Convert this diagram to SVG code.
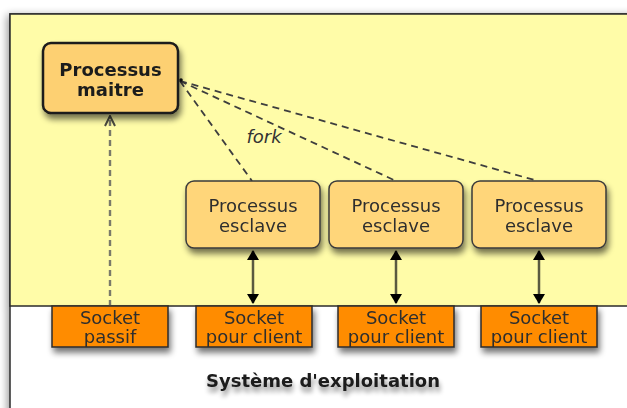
<svg xmlns="http://www.w3.org/2000/svg" width="627" height="408" viewBox="0 0 627 408">
  <style>
    .frame { fill: #ffffff; stroke: #2b2b2b; stroke-width: 1.5; }
    .panel { fill: #fffca8; stroke: #2b2b2b; stroke-width: 1.5; }
    .master { fill: #fdd072; stroke: #1a1a1a; stroke-width: 2.5; }
    .slave { fill: #ffd67a; stroke: #3a3a3a; stroke-width: 1.5; }
    .socket { fill: #ff8c00; stroke: #2b2b2b; stroke-width: 1.5; }
    .t { font-family: "DejaVu Sans", Verdana, sans-serif; font-size: 18px; text-anchor: middle; fill: #2e2e2e; }
    .tb { font-family: "DejaVu Sans", Verdana, sans-serif; font-size: 18px; font-weight: bold; text-anchor: middle; fill: #1a1a1a; }
    .fork { fill: none; stroke: #3e3e3e; stroke-width: 1.8; stroke-dasharray: 7 5; }
    .listen { fill: none; stroke: #7a7a6a; stroke-width: 2.4; stroke-dasharray: 6 4; }
    .io { stroke: #5a5a40; stroke-width: 2.5; }
  </style>
  <defs>
    <filter id="shadow" x="-20%" y="-20%" width="150%" height="160%">
      <feGaussianBlur in="SourceAlpha" stdDeviation="3"/>
      <feOffset dx="2" dy="5" result="b"/>
      <feComponentTransfer><feFuncA type="linear" slope="0.55"/></feComponentTransfer>
      <feMerge><feMergeNode/><feMergeNode in="SourceGraphic"/></feMerge>
    </filter>
    <filter id="frameShadow" x="-5%" y="-5%" width="110%" height="110%">
      <feGaussianBlur in="SourceAlpha" stdDeviation="4"/>
      <feOffset dx="-2" dy="2"/>
      <feComponentTransfer><feFuncA type="linear" slope="0.4"/></feComponentTransfer>
      <feMerge><feMergeNode/><feMergeNode in="SourceGraphic"/></feMerge>
    </filter>
    <filter id="textShadow" x="-10%" y="-50%" width="120%" height="250%">
      <feGaussianBlur in="SourceAlpha" stdDeviation="2.5"/>
      <feOffset dx="1" dy="5"/>
      <feComponentTransfer><feFuncA type="linear" slope="0.45"/></feComponentTransfer>
      <feMerge><feMergeNode/><feMergeNode in="SourceGraphic"/></feMerge>
    </filter>
    <marker id="solidHead" viewBox="0 0 10 12" refX="9" refY="6" markerWidth="10" markerHeight="12" markerUnits="userSpaceOnUse" orient="auto-start-reverse">
      <path d="M0,0 L10,6 L0,12 Z" fill="#000000"/>
    </marker>
    <marker id="openHead" viewBox="0 0 12 12" refX="11" refY="6" markerWidth="12" markerHeight="12" markerUnits="userSpaceOnUse" orient="auto">
      <path d="M1,1 L11,6 L1,11" fill="none" stroke="#4a4a40" stroke-width="2"/>
    </marker>
  </defs>

  <!-- operating system frame and user space panel -->
  <g id="os" filter="url(#frameShadow)">
    <rect class="frame" x="10" y="14" width="640" height="420"/>
    <rect class="panel" x="10" y="14" width="640" height="292"/>
  </g>

  <!-- connectors -->
  <g id="connectors">
    <path class="fork" d="M180,81 L252,181"/>
    <path class="fork" d="M180,81 L396,181"/>
    <path class="fork" d="M180,81 L538,181"/>
    <circle cx="181" cy="80" r="1.8" fill="#111"/>
    <path class="listen" d="M110,306 L110,116" marker-end="url(#openHead)"/>
    <line class="io" x1="253" y1="251" x2="253" y2="303" marker-start="url(#solidHead)" marker-end="url(#solidHead)"/>
    <line class="io" x1="396" y1="251" x2="396" y2="303" marker-start="url(#solidHead)" marker-end="url(#solidHead)"/>
    <line class="io" x1="539" y1="251" x2="539" y2="303" marker-start="url(#solidHead)" marker-end="url(#solidHead)"/>
    <text x="264" y="143" font-family="DejaVu Sans, Verdana, sans-serif" font-size="18" font-style="italic" text-anchor="middle" fill="#333">fork</text>
  </g>

  <g id="master" filter="url(#shadow)">
    <rect class="master" x="43" y="43" width="135" height="70" rx="8"/>
    <text class="tb" x="110.5" y="76">Processus</text>
    <text class="tb" x="110.5" y="96">maitre</text>
  </g>

  <g id="slave1" filter="url(#shadow)">
    <rect class="slave" x="186" y="181" width="134" height="67" rx="8"/>
    <text class="t" x="253" y="212">Processus</text>
    <text class="t" x="253" y="232">esclave</text>
  </g>
  <g id="slave2" filter="url(#shadow)">
    <rect class="slave" x="329" y="181" width="134" height="67" rx="8"/>
    <text class="t" x="396" y="212">Processus</text>
    <text class="t" x="396" y="232">esclave</text>
  </g>
  <g id="slave3" filter="url(#shadow)">
    <rect class="slave" x="472" y="181" width="134" height="67" rx="8"/>
    <text class="t" x="539" y="212">Processus</text>
    <text class="t" x="539" y="232">esclave</text>
  </g>

  <g id="socketPassive" filter="url(#shadow)">
    <rect class="socket" x="52" y="306" width="116" height="41"/>
    <text class="t" x="110" y="324">Socket</text>
    <text class="t" x="110" y="343">passif</text>
  </g>
  <g id="socketClient1" filter="url(#shadow)">
    <rect class="socket" x="196" y="306" width="116" height="41"/>
    <text class="t" x="254" y="324">Socket</text>
    <text class="t" x="254" y="343">pour client</text>
  </g>
  <g id="socketClient2" filter="url(#shadow)">
    <rect class="socket" x="338" y="306" width="116" height="41"/>
    <text class="t" x="396" y="324">Socket</text>
    <text class="t" x="396" y="343">pour client</text>
  </g>
  <g id="socketClient3" filter="url(#shadow)">
    <rect class="socket" x="481" y="306" width="116" height="41"/>
    <text class="t" x="539" y="324">Socket</text>
    <text class="t" x="539" y="343">pour client</text>
  </g>

  <g id="osLabel" filter="url(#textShadow)">
    <text class="tb" x="323" y="387">Système d'exploitation</text>
  </g>
</svg>
